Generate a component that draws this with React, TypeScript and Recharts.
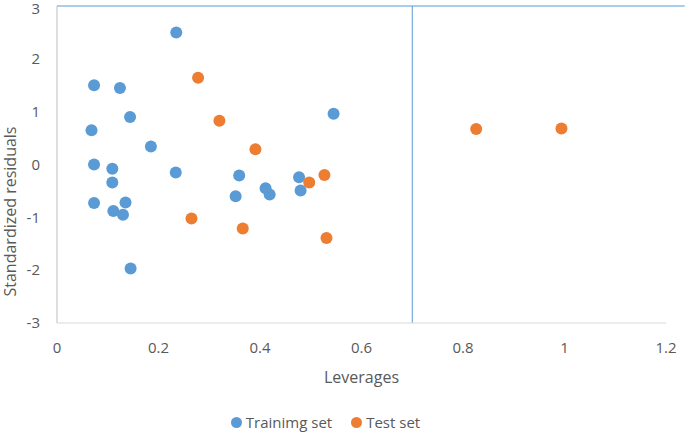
import React from "react";
import {
  ScatterChart,
  Scatter,
  XAxis,
  YAxis,
  ReferenceLine,
  Legend,
  Label,
  Text,
} from "recharts";

const trainingX = [0.235, 0.073, 0.124, 0.144, 0.068, 0.185, 0.073, 0.109, 0.234, 0.109, 0.073, 0.135, 0.111, 0.13, 0.145, 0.359, 0.352, 0.411, 0.419, 0.477, 0.48, 0.545];
const trainingY = [2.5, 1.5, 1.45, 0.9, 0.65, 0.34, 0.0, -0.08, -0.15, -0.34, -0.73, -0.72, -0.88, -0.95, -1.97, -0.21, -0.6, -0.45, -0.57, -0.24, -0.49, 0.96];

const testX = [0.278, 0.32, 0.391, 0.497, 0.527, 0.265, 0.366, 0.531, 0.826, 0.994];
const testY = [1.64, 0.83, 0.29, -0.34, -0.2, -1.02, -1.21, -1.39, 0.67, 0.68];

const xTicks = [0, 0.2, 0.4, 0.6, 0.8, 1, 1.2];
const yTicks = [-3, -2, -1, 0, 1, 2, 3];

const seriesNames = ["Trainimg set", "Test set"];
const seriesColors = ["#5B9BD5", "#ED7D31"];

const trainingData = trainingX.map((x, i) => ({ x, y: trainingY[i] }));
const testData = testX.map((x, i) => ({ x, y: testY[i] }));

const FONT = "'Open Sans', sans-serif";
const TEXT_COLOR = "#595959";

const Dot = (props: any) => (
  <circle cx={props.cx} cy={props.cy} r={6} fill={props.fill} />
);

const YLabel = (props: any) => {
  const vb = props.viewBox || {};
  return (
    <Text
      x={vb.x + 10}
      y={vb.y + vb.height / 2 + 47}
      angle={-90}
      textAnchor="middle"
      verticalAnchor="middle"
      fill={TEXT_COLOR}
      fontSize={16}
      fontFamily={FONT}
    >
      Standardized residuals
    </Text>
  );
};

const renderLegend = (props: any) => {
  const payload = [...(props.payload || [])].sort(
    (a: any, b: any) => seriesNames.indexOf(a.value) - seriesNames.indexOf(b.value)
  );
  return (
    <div
      style={{
        display: "flex",
        justifyContent: "center",
        alignItems: "center",
        gap: 19,
        paddingRight: 15,
        fontFamily: FONT,
        fontSize: 15,
        color: TEXT_COLOR,
        height: 20,
      }}
    >
      {payload.map((p: any) => (
        <div key={p.value} style={{ display: "flex", alignItems: "center" }}>
          <span
            style={{
              display: "inline-block",
              width: 11,
              height: 11,
              borderRadius: "50%",
              background: p.color,
              marginRight: 4,
            }}
          />
          <span>{p.value}</span>
        </div>
      ))}
    </div>
  );
};

export default function App() {
  return (
    <div style={{ position: "absolute", left: 0, top: 0 }}>
      <ScatterChart
        width={685}
        height={432}
        margin={{ top: 6, right: 19, left: 0, bottom: 0 }}
      >
        <XAxis
          type="number"
          dataKey="x"
          domain={[0, 1.2]}
          ticks={xTicks}
          tickFormatter={(v: number) => String(v)}
          height={89}
          tickLine={false}
          tickSize={0}
          tickMargin={19}
          axisLine={{ stroke: "#D9D9D9", strokeWidth: 1 }}
          tick={{ fill: TEXT_COLOR, fontSize: 15, fontFamily: FONT }}
          allowDataOverflow
        >
          <Label
            value="Leverages"
            position="insideBottom"
            offset={29}
            fill={TEXT_COLOR}
            fontSize={16}
            fontFamily={FONT}
          />
        </XAxis>
        <YAxis
          type="number"
          dataKey="y"
          domain={[-3, 3]}
          ticks={yTicks}
          width={57}
          tickLine={false}
          tickSize={0}
          tickMargin={17}
          axisLine={{ stroke: "#BFBFBF", strokeWidth: 1 }}
          tick={{ fill: TEXT_COLOR, fontSize: 15, fontFamily: FONT }}
          label={<YLabel />}
        />
        <ReferenceLine
          segment={[
            { x: 0, y: 3 },
            { x: 1.237, y: 3 },
          ]}
          stroke="#5B9BD5"
          strokeWidth={1}
          ifOverflow="visible"
        />
        <ReferenceLine x={0.7} stroke="#5B9BD5" strokeWidth={1} />
        <Legend
          verticalAlign="bottom"
          height={20}
          content={renderLegend}
        />
        <Scatter
          name={seriesNames[0]}
          data={trainingData}
          fill={seriesColors[0]}
          shape={Dot}
          isAnimationActive={false}
        />
        <Scatter
          name={seriesNames[1]}
          data={testData}
          fill={seriesColors[1]}
          shape={Dot}
          isAnimationActive={false}
        />
      </ScatterChart>
    </div>
  );
}
